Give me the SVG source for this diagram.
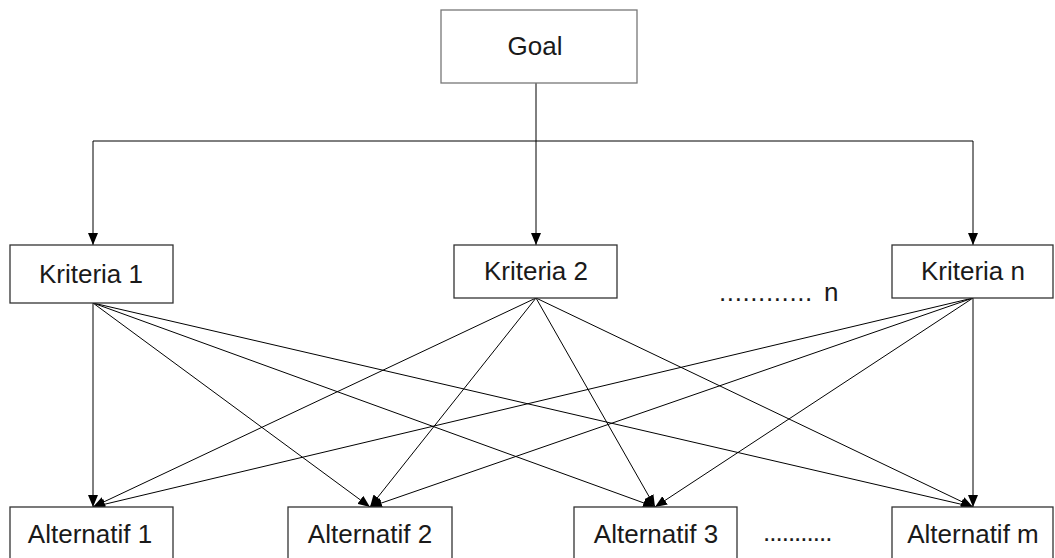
<svg xmlns="http://www.w3.org/2000/svg" width="1055" height="558" viewBox="0 0 1055 558">
<style>
.box{fill:#fff;stroke:#333;stroke-width:1.3}
.lbl{font-family:"Liberation Sans",Arial,sans-serif;font-size:26px;fill:#1a1a1a;text-anchor:middle}
.dots{font-family:"Liberation Sans",Arial,sans-serif;font-size:26px;fill:#1a1a1a}
.c{fill:none;stroke:#000;stroke-width:1}
</style>
<defs>
<marker id="ah" viewBox="0 0 12 10" refX="12" refY="5" markerWidth="12" markerHeight="10" markerUnits="userSpaceOnUse" orient="auto">
<path d="M0,0 L12,5 L0,10 Z" fill="#000"/>
</marker>
</defs>
<rect width="1055" height="558" fill="#fff"/>
<g id="connectors">
<path class="c" d="M536,83 V141"/>
<path class="c" d="M93,141 H973"/>
<path class="c" d="M93,141 V245" marker-end="url(#ah)"/>
<path class="c" d="M536,141 V245" marker-end="url(#ah)"/>
<path class="c" d="M973,141 V245" marker-end="url(#ah)"/>
<path class="c" d="M93,303 L93,507" marker-end="url(#ah)"/>
<path class="c" d="M93,303 L370,507" marker-end="url(#ah)"/>
<path class="c" d="M93,303 L655,507" marker-end="url(#ah)"/>
<path class="c" d="M93,303 L973,507" marker-end="url(#ah)"/>
<path class="c" d="M536,298 L93,507" marker-end="url(#ah)"/>
<path class="c" d="M536,298 L370,507" marker-end="url(#ah)"/>
<path class="c" d="M536,298 L655,507" marker-end="url(#ah)"/>
<path class="c" d="M536,298 L973,507" marker-end="url(#ah)"/>
<path class="c" d="M973,298 L93,507" marker-end="url(#ah)"/>
<path class="c" d="M973,298 L370,507" marker-end="url(#ah)"/>
<path class="c" d="M973,298 L655,507" marker-end="url(#ah)"/>
<path class="c" d="M973,298 L973,507" marker-end="url(#ah)"/>
</g>
<g id="goal">
<rect class="box" x="441" y="10" width="196" height="73" style="stroke:#777"/>
<text class="lbl" x="535" y="55">Goal</text>
</g>
<g id="kriteria1">
<rect class="box" x="10" y="245" width="163" height="58"/>
<text class="lbl" x="91" y="283">Kriteria 1</text>
</g>
<g id="kriteria2">
<rect class="box" x="454" y="245" width="163" height="53"/>
<text class="lbl" x="536" y="280">Kriteria 2</text>
</g>
<g id="kriterian">
<rect class="box" x="892" y="245" width="161" height="53"/>
<text class="lbl" x="973" y="280">Kriteria n</text>
</g>
<g id="dots-n">
<text class="dots" x="719" y="301" style="letter-spacing:0.6px">............<tspan x="824">n</tspan></text>
</g>
<g id="alt1">
<rect class="box" x="10" y="507" width="163" height="60"/>
<text class="lbl" x="90" y="543">Alternatif 1</text>
</g>
<g id="alt2">
<rect class="box" x="288" y="507" width="164" height="60"/>
<text class="lbl" x="370" y="543">Alternatif 2</text>
</g>
<g id="alt3">
<rect class="box" x="574" y="507" width="163" height="60"/>
<text class="lbl" x="656" y="543">Alternatif 3</text>
</g>
<g id="dots-m">
<text class="dots" x="763" y="541" style="letter-spacing:-1px">...........</text>
</g>
<g id="altm">
<rect class="box" x="892" y="507" width="161" height="60"/>
<text class="lbl" x="973" y="543">Alternatif m</text>
</g>
</svg>
